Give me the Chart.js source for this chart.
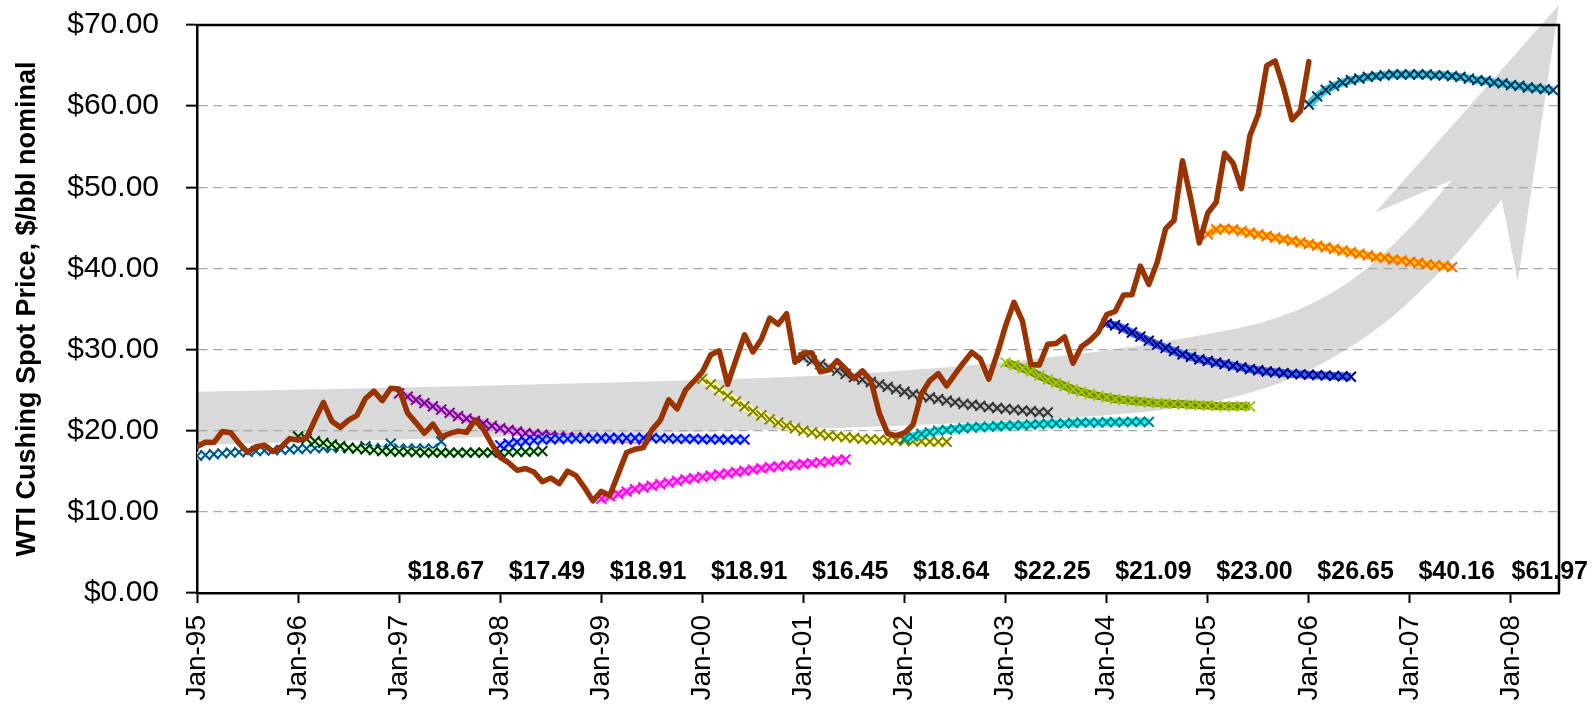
<!DOCTYPE html>
<html>
<head>
<meta charset="utf-8">
<title>WTI Cushing spot price and forward curves</title>
<script src="https://cdn.jsdelivr.net/npm/chart.js@4.4.1/dist/chart.umd.min.js"></script>
<style>
    html, body { margin: 0; padding: 0; background: #fff; }
    #wrap { width: 1595px; height: 706px; position: relative; }
</style>
</head>
<body>
<div id="wrap"><canvas id="chart"></canvas></div>
<script>
// x values are months counted from Jan-95 (0 = Jan-95)
const xTickMonths = [0, 12, 24, 36, 48, 60, 72, 84, 96, 108, 120, 132, 144, 156];
const xTickLabels = ['Jan-95', 'Jan-96', 'Jan-97', 'Jan-98', 'Jan-99', 'Jan-00', 'Jan-01',
    'Jan-02', 'Jan-03', 'Jan-04', 'Jan-05', 'Jan-06', 'Jan-07', 'Jan-08'];

// Monthly WTI Cushing spot, Jan-95 .. Jan-06
const spotPrice = [
    18.04, 18.57, 18.54, 19.90, 19.74, 18.45, 17.33, 18.02, 18.23, 17.43, 17.99, 19.03,
    18.85, 19.09, 21.33, 23.50, 21.17, 20.42, 21.30, 21.90, 23.97, 24.88, 23.71, 25.23,
    25.13, 22.18, 20.97, 19.70, 20.82, 19.26, 19.66, 19.95, 19.80, 21.33, 20.19, 18.33,
    16.72, 16.06, 15.12, 15.35, 14.91, 13.72, 14.17, 13.47, 15.03, 14.46, 13.00, 11.35,
    12.52, 12.01, 14.68, 17.31, 17.72, 17.92, 20.10, 21.28, 23.80, 22.69, 25.00, 26.10,
    27.26, 29.37, 29.84, 25.72, 28.79, 31.82, 29.70, 31.26, 33.88, 33.11, 34.42, 28.44,
    29.59, 29.61, 27.25, 27.49, 28.63, 27.60, 26.43, 27.37, 26.20, 22.17, 19.64, 19.39,
    19.72, 20.72, 24.53, 26.18, 27.04, 25.52, 26.97, 28.39, 29.66, 28.84, 26.35, 29.46,
    32.95, 35.83, 33.51, 28.17, 28.11, 30.66, 30.76, 31.57, 28.31, 30.34, 31.11, 32.13,
    34.31, 34.69, 36.74, 36.75, 40.28, 38.03, 40.78, 44.90, 45.94, 53.28, 48.47, 43.15,
    46.84, 48.15, 54.19, 52.98, 49.83, 56.35, 59.00, 64.99, 65.59, 62.26, 58.32, 59.41,
    65.49
];

// 30-month forward strips, one per January
const curveStart = [0, 12, 24, 36, 48, 60, 72, 84, 96, 108, 120, 132];
const fwd95 = [16.9, 17.0, 17.1, 17.2, 17.3, 17.35, 17.4, 17.5, 17.55, 17.6, 17.65, 17.7,
    17.75, 17.8, 17.85, 17.9, 17.9, 17.9, 17.85, 17.85, 18.1, 17.85, 17.8, 18.4, 17.8, 17.8,
    17.8, 17.8, 17.8, 18.67];
const fwd96 = [19.3, 19.0, 18.7, 18.5, 18.3, 18.1, 17.9, 17.8, 17.7, 17.6, 17.5, 17.45,
    17.4, 17.4, 17.35, 17.3, 17.3, 17.3, 17.3, 17.3, 17.3, 17.3, 17.3, 17.3, 17.35, 17.35,
    17.4, 17.4, 17.45, 17.49];
const fwd97 = [24.6, 24.2, 23.8, 23.4, 23.0, 22.6, 22.2, 21.8, 21.5, 21.2, 20.9, 20.6,
    20.3, 20.1, 19.9, 19.7, 19.6, 19.5, 19.4, 19.3, 19.25, 19.2, 19.15, 19.1, 19.05, 19.0,
    18.98, 18.95, 18.93, 18.91];
const fwd98 = [18.2, 18.4, 18.6, 18.7, 18.8, 18.9, 18.95, 19.0, 19.0, 19.05, 19.05, 19.05,
    19.1, 19.1, 19.1, 19.1, 19.1, 19.1, 19.1, 19.05, 19.05, 19.0, 19.0, 19.0, 18.95, 18.95,
    18.95, 18.9, 18.9, 18.91];
const fwd99 = [11.6, 11.9, 12.2, 12.5, 12.8, 13.0, 13.2, 13.4, 13.6, 13.8, 14.0, 14.15,
    14.3, 14.45, 14.6, 14.75, 14.9, 15.05, 15.2, 15.35, 15.5, 15.6, 15.7, 15.8, 15.9, 16.0,
    16.1, 16.2, 16.35, 16.45];
const fwd00 = [26.4, 25.7, 25.0, 24.3, 23.6, 23.0, 22.4, 21.9, 21.4, 21.0, 20.6, 20.3,
    20.0, 19.8, 19.6, 19.4, 19.3, 19.2, 19.1, 19.0, 18.95, 18.9, 18.85, 18.8, 18.75, 18.7,
    18.7, 18.65, 18.65, 18.64];
const fwd01 = [29.0, 28.6, 28.2, 27.8, 27.4, 27.0, 26.6, 26.3, 26.0, 25.7, 25.4, 25.1,
    24.8, 24.5, 24.3, 24.1, 23.9, 23.7, 23.5, 23.3, 23.2, 23.05, 22.9, 22.8, 22.7, 22.6,
    22.5, 22.4, 22.3, 22.25];
const fwd02 = [19.0, 19.3, 19.6, 19.8, 20.0, 20.1, 20.2, 20.3, 20.4, 20.45, 20.5, 20.55,
    20.6, 20.65, 20.7, 20.75, 20.8, 20.85, 20.9, 20.9, 20.95, 21.0, 21.0, 21.0, 21.05, 21.05,
    21.05, 21.1, 21.1, 21.09];
const fwd03 = [28.4, 28.1, 27.7, 27.3, 26.8, 26.3, 25.9, 25.5, 25.1, 24.8, 24.5, 24.3,
    24.1, 23.9, 23.8, 23.7, 23.6, 23.5, 23.4, 23.35, 23.3, 23.25, 23.2, 23.15, 23.1, 23.05,
    23.0, 23.0, 23.0, 23.00];
const fwd04 = [33.2, 33.0, 32.6, 32.1, 31.6, 31.1, 30.6, 30.2, 29.8, 29.4, 29.1, 28.8,
    28.6, 28.4, 28.2, 28.0, 27.8, 27.6, 27.45, 27.3, 27.2, 27.1, 27.0, 26.95, 26.9, 26.85,
    26.8, 26.75, 26.7, 26.65];
const fwd05 = [44.2, 44.8, 44.9, 44.8, 44.6, 44.4, 44.2, 44.0, 43.8, 43.6, 43.4, 43.2,
    43.0, 42.8, 42.6, 42.4, 42.2, 42.0, 41.8, 41.6, 41.4, 41.3, 41.1, 41.0, 40.8, 40.7,
    40.5, 40.4, 40.3, 40.16];
const fwd06 = [60.2, 61.2, 62.0, 62.5, 62.9, 63.2, 63.4, 63.6, 63.7, 63.8, 63.9, 63.9,
    63.9, 63.9, 63.9, 63.8, 63.8, 63.7, 63.6, 63.4, 63.2, 63.1, 62.9, 62.8, 62.6, 62.5,
    62.3, 62.2, 62.1, 61.97];
const forwardCurves = [fwd95, fwd96, fwd97, fwd98, fwd99, fwd00, fwd01, fwd02, fwd03, fwd04, fwd05, fwd06];

// Background arrow outline, in (month, $) units
const arrowUpperEdge = [[0, 24.8], [24.2, 25.3], [47.9, 25.9], [71.7, 26.6], [89.5, 27.75],
    [107.2, 29.7], [119.1, 31.7], [128.6, 33.7], [136.9, 38.0], [144.0, 44.8], [149.0, 50.9]];
const arrowHead = [[139.9, 46.9], [161.7, 72.5], [156.8, 38.4], [154.9, 48.5]];
const arrowLowerEdge = [[150.8, 43.3], [145.0, 36.5], [136.9, 30.0], [127.4, 25.0],
    [113.2, 21.95], [77.6, 20.35], [47.9, 19.6], [0, 18.25]];

// Styles
const bandColors = ['#ccffff', '#ccffcc', '#cc99ff', '#99ccff', '#ff99cc', '#ffff99',
    '#c0c0c0', '#00ffff', '#808000', '#3366ff', '#ffcc00', '#33cccc'];
const markerColors = ['#0b4f80', '#003300', '#800080', '#0000ff', '#ff00ff', '#808000',
    '#333333', '#008080', '#99cc00', '#000080', '#ff6600', '#003366'];

const FONT = "'Liberation Sans', Arial, sans-serif";
const labelLevel = 2.6;

function smoothPath(ctx, pts, start) {
    if (start) ctx.moveTo(pts[0][0], pts[0][1]);
    else ctx.lineTo(pts[0][0], pts[0][1]);
    for (let i = 1; i < pts.length - 1; i++) {
        const mx = (pts[i][0] + pts[i + 1][0]) / 2;
        const my = (pts[i][1] + pts[i + 1][1]) / 2;
        ctx.quadraticCurveTo(pts[i][0], pts[i][1], mx, my);
    }
    const last = pts[pts.length - 1];
    ctx.lineTo(last[0], last[1]);
}

const decorPlugin = {
    id: 'decor',
    beforeDraw(chart) {
        const { ctx } = chart;
        const xs = chart.scales.x, ys = chart.scales.y;
        const toPx = p => [xs.getPixelForValue(p[0]), ys.getPixelForValue(p[1])];
        ctx.save();
        ctx.fillStyle = '#d9d9d9';
        ctx.beginPath();
        smoothPath(ctx, arrowUpperEdge.map(toPx), true);
        arrowHead.map(toPx).forEach(p => ctx.lineTo(p[0], p[1]));
        smoothPath(ctx, arrowLowerEdge.map(toPx), false);
        ctx.closePath();
        ctx.fill();
        ctx.restore();
    },
    beforeDatasetsDraw(chart) {
        // top and right sides of the plot frame
        const { ctx, chartArea: a } = chart;
        ctx.save();
        ctx.strokeStyle = '#000';
        ctx.lineWidth = 2.5;
        ctx.beginPath();
        ctx.moveTo(a.left, a.top);
        ctx.lineTo(a.right, a.top);
        ctx.lineTo(a.right, a.bottom);
        ctx.stroke();
        ctx.restore();
    },
    afterDatasetsDraw(chart) {
        // end value of each strip, written along the bottom
        const { ctx } = chart;
        const xs = chart.scales.x, ys = chart.scales.y;
        ctx.save();
        ctx.font = 'bold 25px ' + FONT;
        ctx.fillStyle = '#000';
        ctx.textAlign = 'center';
        ctx.textBaseline = 'middle';
        forwardCurves.forEach((curve, i) => {
            const last = curve[curve.length - 1];
            const text = '$' + last.toFixed(2);
            const w = ctx.measureText(text).width;
            let px = xs.getPixelForValue(curveStart[i] + curve.length - 1 + 0.55);
            px = Math.min(px, chart.width - 7 - w / 2);
            ctx.fillText(text, px, ys.getPixelForValue(labelLevel));
        });
        ctx.restore();
    }
};

const datasets = [{
    label: 'WTI spot',
    data: spotPrice.map((v, i) => ({ x: i, y: v })),
    borderColor: '#993300',
    borderWidth: 5.5,
    borderJoinStyle: 'round',
    borderCapStyle: 'round',
    pointRadius: 0,
    tension: 0,
    order: 0
}];

forwardCurves.forEach((curve, i) => {
    datasets.push({
        label: xTickLabels[i] + ' strip',
        data: curve.map((v, k) => ({ x: curveStart[i] + k, y: v })),
        borderColor: bandColors[i],
        borderWidth: 8,
        pointStyle: 'crossRot',
        pointRadius: 7,
        pointBorderWidth: 2,
        pointBorderColor: markerColors[i],
        pointBackgroundColor: markerColors[i],
        tension: 0,
        order: 30 - i
    });
});

new Chart(document.getElementById('chart'), {
    type: 'line',
    data: { datasets: datasets },
    plugins: [decorPlugin],
    options: {
        responsive: true,
        maintainAspectRatio: false,
        animation: false,
        events: [],
        layout: { autoPadding: false, padding: { top: 25, right: 36, left: 0, bottom: 0 } },
        plugins: {
            legend: { display: false },
            tooltip: { enabled: false }
        },
        scales: {
            x: {
                type: 'linear',
                min: 0,
                max: 161.7,
                afterBuildTicks: s => { s.ticks = xTickMonths.map(v => ({ value: v })); },
                afterFit: s => {
                    s.height = 113;
                    s.paddingLeft = 0;
                    s.paddingRight = 0;
                },
                ticks: {
                    autoSkip: false,
                    maxRotation: 90,
                    minRotation: 90,
                    padding: 12,
                    color: '#000',
                    font: { family: FONT, size: 28 },
                    callback: (v, idx) => xTickLabels[idx]
                },
                grid: {
                    drawOnChartArea: false,
                    drawTicks: true,
                    tickLength: 10,
                    tickColor: '#000',
                    tickWidth: 2
                },
                border: { color: '#000', width: 2.5 }
            },
            y: {
                min: 0,
                max: 70,
                afterFit: s => {
                    s.width = 197;
                    s.paddingTop = 0;
                    s.paddingBottom = 0;
                },
                ticks: {
                    stepSize: 10,
                    padding: 27,
                    color: '#000',
                    font: { family: FONT, size: 30 },
                    callback: v => '$' + Number(v).toFixed(2)
                },
                grid: {
                    color: '#a6a6a6',
                    lineWidth: 1.3,
                    tickLength: 11,
                    tickColor: '#000',
                    tickWidth: 2
                },
                border: { color: '#000', width: 2.5, dash: [9, 6] },
                title: {
                    display: true,
                    text: 'WTI Cushing Spot Price, $/bbl nominal',
                    color: '#000',
                    font: { family: FONT, size: 27, weight: 'bold' },
                    padding: { top: 11, bottom: 0 }
                }
            }
        }
    }
});
</script>
</body>
</html>
